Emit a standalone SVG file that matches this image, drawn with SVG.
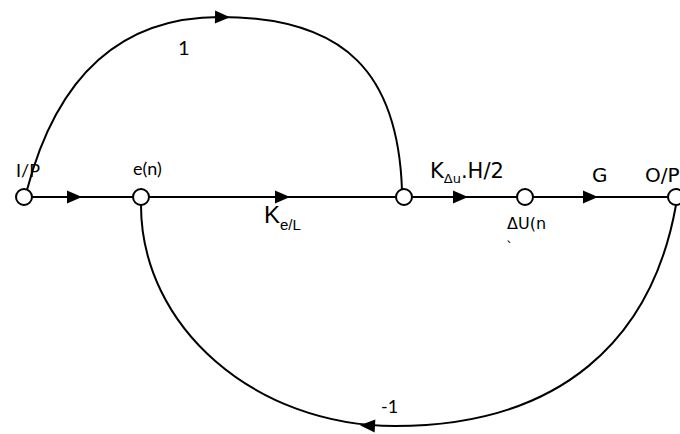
<svg xmlns="http://www.w3.org/2000/svg" width="680" height="434" viewBox="0 0 680 434">
<style>
.ln{fill:none;stroke:#000;stroke-width:2}
.nd{fill:#fff;stroke:#000;stroke-width:2}
.ah{fill:#000}
.c{font-family:Lato,"Open Sans","Liberation Sans",sans-serif;fill:#000}
.v{font-family:"DejaVu Sans","Liberation Sans",sans-serif;fill:#000}
.k{font-family:"Liberation Sans","DejaVu Sans",sans-serif;fill:#000}
</style>
<defs>
<path id="ah" class="ah" d="M0 0 L-15 -6.5 L-15 6.5 Z"/>
</defs>
<rect width="680" height="434" fill="#fff"/>
<g id="connectors">
<path class="ln" d="M24 197 H680"/>
<path class="ln" d="M27 190 C52 95 105 17 220 17 C347 17 398 75 402 190"/>
<path class="ln" d="M676 205 C652 340 560 426 395 426 C255 426 141 327 141 205"/>
<use href="#ah" transform="translate(82 197)"/>
<use href="#ah" transform="translate(290 197)"/>
<use href="#ah" transform="translate(468 197)"/>
<use href="#ah" transform="translate(598 197)"/>
<use href="#ah" transform="translate(230 17.2) rotate(1)"/>
<use href="#ah" transform="translate(360 425.2) rotate(183)"/>
</g>
<g id="n-ip">
<circle class="nd" cx="24" cy="197" r="8"/>
<text class="c" x="16" y="177" font-size="18">I/P</text>
</g>
<g id="n-en">
<circle class="nd" cx="141" cy="197" r="8"/>
<text class="c" x="133" y="175" font-size="18">e(n)</text>
</g>
<g id="n-mid">
<circle class="nd" cx="404" cy="197" r="8"/>
</g>
<g id="n-du">
<circle class="nd" cx="525" cy="197" r="8"/>
<text class="v" x="507" y="229" font-size="16">ΔU(n</text>
<text class="v" x="506" y="252" font-size="14">`</text>
</g>
<g id="n-op">
<circle class="nd" cx="676" cy="197" r="8"/>
<text class="v" x="645" y="182" font-size="20">O/P</text>
</g>
<g id="labels">
<text class="c" x="178" y="55" font-size="20">1</text>
<text class="c" x="381" y="413" font-size="18">-1</text>
<text class="k" x="264" y="223" font-size="24">K<tspan font-size="15" dy="7">e/L</tspan></text>
<text class="v" x="430" y="178" font-size="21">K<tspan font-size="13" dy="5">Δu</tspan><tspan dy="-5">.H/2</tspan></text>
<text class="v" x="592" y="182" font-size="20">G</text>
</g>
</svg>
